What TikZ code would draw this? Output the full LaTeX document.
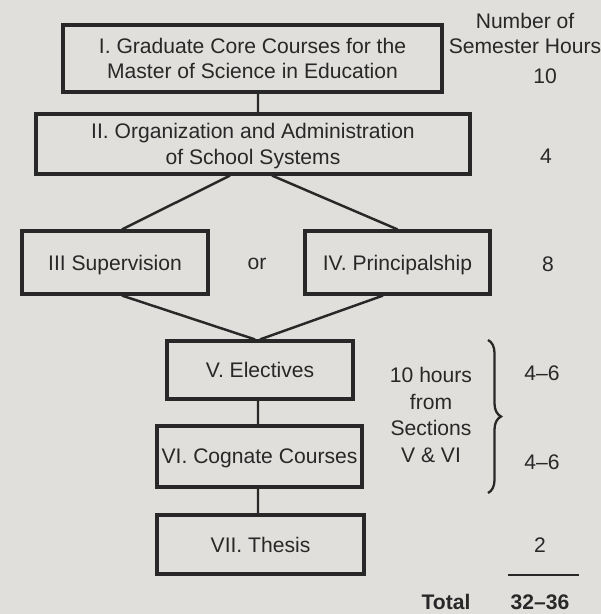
\documentclass[tikz,border=0pt]{standalone}
\usepackage{fontspec}
\setmainfont{Liberation Sans}
\usetikzlibrary{decorations.pathreplacing}
\definecolor{paper}{rgb}{0.878, 0.875, 0.863}
\definecolor{ink}{rgb}{0.157, 0.157, 0.157}
\tikzset{box/.style={draw=ink, line width=1.8pt, align=center, inner sep=0pt, text depth=0pt}}
\tikzset{edge/.style={line width=1.4pt, color=ink}}

\begin{document}
\begin{tikzpicture}[color=ink, font=\fontsize{12}{14.5}\selectfont]
        \fill[paper] (0,0) rectangle (12.02,-12.28);
        \useasboundingbox (0,0) rectangle (12.02,-12.28);

        \node[box, minimum width=7.58cm, minimum height=1.34cm] (N1) at (5.05,-1.17)
        {I. Graduate Core Courses for the\\Master of Science in Education};
        \node[box, minimum width=8.68cm, minimum height=1.20cm] (N2) at (5.06,-2.88)
        {II. Organization and Administration\\of School Systems};
        \node[box, minimum width=3.72cm, minimum height=1.26cm] (N3) at (2.30,-5.25) {III Supervision};
        \node[box, minimum width=3.70cm, minimum height=1.26cm] (N4) at (7.95,-5.25) {IV. Principalship};
        \node[box, minimum width=3.72cm, minimum height=1.16cm] (N5) at (5.20,-7.40) {V. Electives};
        \node[box, minimum width=4.10cm, minimum height=1.22cm] (N6) at (5.19,-9.13) {VI. Cognate Courses};
        \node[box, minimum width=4.14cm, minimum height=1.18cm] (N7) at (5.21,-10.89) {VII. Thesis};

        \node (Nor) at (5.14,-5.28) {or};

        \draw [edge] ([xshift=1.1mm]N1.south) -- ([xshift=1.0mm]N2.north);
        \draw [edge] ([xshift=-4.6mm]N2.south) -- ([xshift=1.4mm]N3.north);
        \draw [edge] ([xshift=3.8mm]N2.south) -- (N4.north);
        \draw [edge] ([xshift=1.4mm]N3.south) -- ([xshift=-1.0mm]N5.north);
        \draw [edge] ([xshift=-2.9mm]N4.south) -- (N5.north);
        \draw [edge] ([xshift=-0.4mm]N5.south) -- ([xshift=-0.3mm]N6.north);
        \draw [edge] ([xshift=-0.3mm]N6.south) -- ([xshift=-0.5mm]N7.north);

        % hours column
        \node (Hhead) at (10.50,-0.67) [align=center] {Number of\\Semester Hours};
        \node (H1) at (10.90,-1.52) {10};
        \node (H2) at (10.92,-3.12) {4};
        \node (H3) at (10.96,-5.28) {8};
        \node (Hsec) at (8.62,-8.30) [align=center, font=\fontsize{12}{15.2}\selectfont] {10 hours\\from\\Sections\\V \& VI};
        \coordinate (Btop) at (9.76,-6.80);
        \coordinate (Bbot) at (9.76,-9.86);
        \draw [edge, line width=1.3pt, decorate, decoration={brace, amplitude=0.26cm}] (Btop) -- (Bbot);
        \node (H5) at (10.84,-7.46) {4--6};
        \node (H6) at (10.84,-9.24) {4--6};
        \node (H7) at (10.80,-10.90) {2};
        \coordinate (Ra) at (10.16,-11.50);
        \coordinate (Rb) at (11.58,-11.50);
        \draw [edge, line width=0.9pt] (Ra) -- (Rb);
        \node[font=\fontsize{12}{14.5}\selectfont\bfseries] (Tl) at (8.92,-12.04) {Total};
        \node[font=\fontsize{12}{14.5}\selectfont\bfseries] (Tv) at (10.80,-12.04) {32--36};
    \end{tikzpicture}
\end{document}
